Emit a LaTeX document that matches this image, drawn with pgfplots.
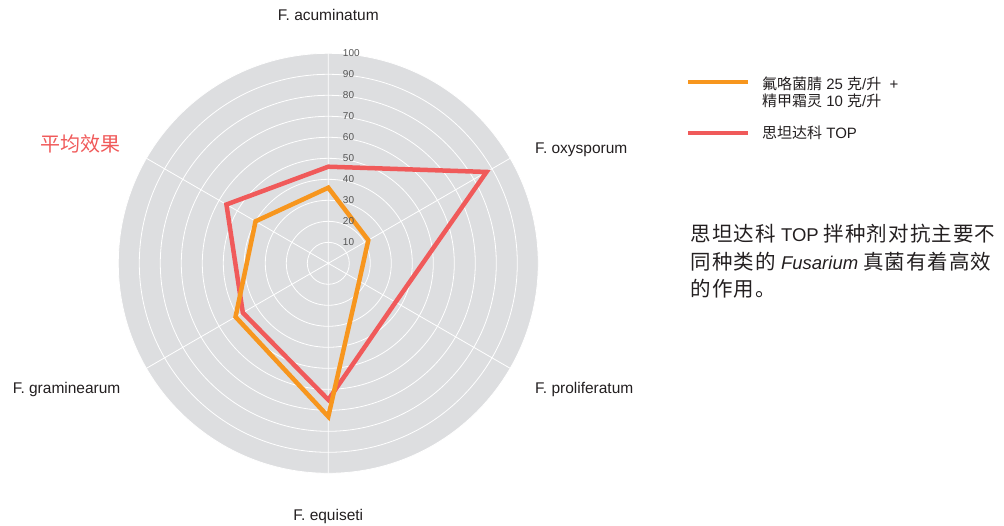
\documentclass[border=0pt]{standalone}
\usepackage{fontspec}
\setmainfont{Liberation Sans}
\newfontfamily\cjk{Noto Sans CJK SC}
\newfontfamily\cjkwide[LetterSpace=5]{Noto Sans CJK SC}
\usepackage{pgfplots}
\usepackage{pgfplotstable}
\pgfplotsset{compat=1.18}
\usepgfplotslibrary{polar}

\definecolor{discgray}{RGB}{221,222,224}
\definecolor{orangeS}{RGB}{247,150,30}
\definecolor{redS}{RGB}{240,90,90}
\definecolor{txt}{RGB}{35,31,32}
\definecolor{ticktxt}{RGB}{85,85,85}

% angle (deg), value in %
\pgfplotstableread{
ang orange red
90  36 46
30  22 87
330 17 37
270 73 65
210 51 47
150 40 56
}\radardata

\begin{document}
\begin{tikzpicture}
\begin{polaraxis}[
    width=420pt, height=420pt, scale only axis,
    at={(0,0)}, anchor=center,
    xmin=0, xmax=360, ymin=0, ymax=100,
    xtick={30,90,150,210,270,330},
    ytick={10,20,...,100},
    xticklabel style={opacity=0}, yticklabel style={opacity=0},
    major tick length=0pt,
    grid=major,
    grid style={white, line width=0.8pt},
    axis line style={draw=none},
    axis background/.style={fill=discgray},
    clip=false,
]
\addplot[redS, line width=4.5pt, line join=miter, no markers] table[x=ang, y=red] {\radardata} -- cycle;
\addplot[orangeS, line width=4.5pt, line join=miter, no markers] table[x=ang, y=orange] {\radardata} -- cycle;

\coordinate (c) at (axis cs:0,0);

% radial tick numbers along the top spoke
\pgfplotsinvokeforeach{10,20,...,100}{
  \node[anchor=west, inner sep=0pt, xshift=14.5pt, font=\fontsize{10}{12}\selectfont, text=ticktxt]
    at (axis cs:90,#1) {#1};
}

% category labels
\begin{scope}[font=\fontsize{15.5}{17}\selectfont, text=txt, inner sep=0pt]
\node[anchor=south] at (axis cs:90,115.5) {F. acuminatum};
\node[anchor=base west] at (axis cs:28,111.5) {F. oxysporum};
\node[anchor=base west] at (axis cs:327.8,116.3) {F. proliferatum};
\node[anchor=north] at (axis cs:270,117) {F. equiseti};
\node[anchor=base east] at (axis cs:212,116.6) {F. graminearum};
\end{scope}
\node[anchor=east, inner sep=0pt, text=redS, font=\cjk\fontsize{20}{22}\selectfont]
  at (axis cs:150,114) {平均效果};
\end{polaraxis}

% legend
\draw[orangeS, line width=4.5pt] ([xshift=359.7pt, yshift=181.3pt]c) -- ++(60pt,0);
\draw[redS, line width=4.5pt] ([xshift=359.7pt, yshift=130.3pt]c) -- ++(60pt,0);
\begin{scope}[font=\fontsize{15}{17}\selectfont, text=txt, inner sep=0pt]
\node[anchor=base west] at ([xshift=433.7pt, yshift=174pt]c) {{\cjk 氟咯菌腈} 25 {\cjk 克}/{\cjk 升}\ \ +};
\node[anchor=base west] at ([xshift=433.7pt, yshift=156.6pt]c) {{\cjk 精甲霜灵} 10 {\cjk 克}/{\cjk 升}};
\node[anchor=base west] at ([xshift=433.7pt, yshift=125pt]c) {{\cjk 思坦达科} TOP};
\end{scope}

% note text
\newcommand{\zh}[1]{{\cjkwide\fontsize{20.5}{21}\selectfont #1}}
\begin{scope}[font=\fontsize{18.5}{21}\selectfont, text=txt, inner sep=0pt]
\node[anchor=base west] at ([xshift=362.4pt, yshift=21.6pt]c) {\zh{思坦达科} TOP \zh{拌种剂对抗主要不}};
\node[anchor=base west] at ([xshift=362.4pt, yshift=-6pt]c) {\zh{同种类的} \textit{Fusarium} \zh{真菌有着高效}};
\node[anchor=base west] at ([xshift=362.4pt, yshift=-33.6pt]c) {\zh{的作用。}};
\end{scope}

% page frame as in the reference
\path ([xshift=-328.3pt, yshift=263.3pt]c) rectangle ([xshift=675.7pt, yshift=-261.7pt]c);
\end{tikzpicture}
\end{document}
